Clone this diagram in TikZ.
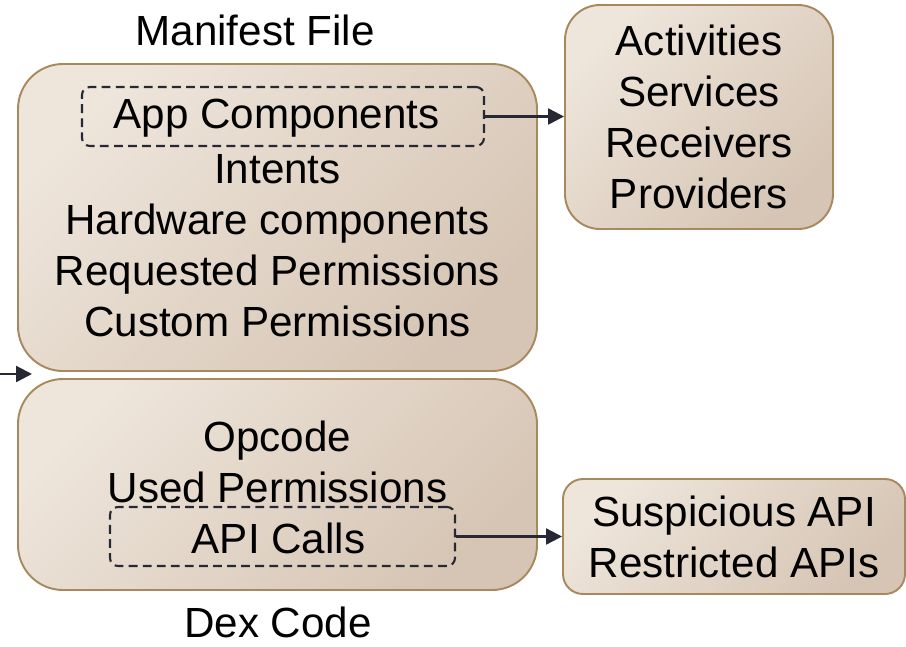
\documentclass[tikz,border=0pt]{standalone}
\usepackage{fontspec}
\setmainfont{Liberation Sans}
\usetikzlibrary{arrows.meta,calc}
\definecolor{panellight}{HTML}{EEE5DB}
\definecolor{paneldark}{HTML}{D6C5B4}
\definecolor{panelrim}{HTML}{A8895E}
\definecolor{linkcol}{HTML}{262833}
\tikzset{
  panel/.style={rectangle,draw=panelrim,line width=1.1pt,top color=panellight,bottom color=paneldark,shading angle=45,inner sep=0pt},
  dashbox/.style={rectangle,draw=linkcol,line width=1.2pt,dash pattern=on 5pt off 3pt,rounded corners=0.16cm,inner sep=0pt},
  words/.style={align=center,inner sep=0pt,font=\fontsize{24}{29}\selectfont},
  link/.style={draw=linkcol,line width=1.3pt,-{Triangle[length=9pt,width=9pt]}}
}

\begin{document}
\begin{tikzpicture}
    \useasboundingbox (0,0) rectangle (18.12,-12.92); % keeps the margins

    % manifest file
    \node[panel,minimum width=10.38cm,minimum height=6.14cm,rounded corners=0.9cm] (manifest) at (5.55,-4.35) {};
    \node[dashbox,minimum width=8.04cm,minimum height=1.18cm] (appbox) at (5.66,-2.33) {};
    \node[words] (apptxt) at (5.53,-2.36) {App Components};
    \node[words] (mlist) at (5.55,-4.91) {Intents\\Hardware components\\Requested Permissions\\Custom Permissions};
    \node[words] (mtitle) at (5.1,-0.6) {Manifest File};

    % dex code
    \node[panel,minimum width=10.38cm,minimum height=4.22cm,rounded corners=0.9cm] (dex) at (5.55,-9.69) {};
    \node[words] (dlist) at (5.55,-9.23) {Opcode\\Used Permissions};
    \node[dashbox,minimum width=6.9cm,minimum height=1.18cm] (apibox) at (5.65,-10.73) {};
    \node[words] (apitxt) at (5.57,-10.76) {API Calls};
    \node[words] (dtitle) at (5.56,-12.44) {Dex Code};

    \node[panel,words,minimum width=5.36cm,minimum height=4.48cm,rounded corners=0.7cm] (comps) at (13.98,-2.34) {Activities\\Services\\Receivers\\Providers};
    \node[panel,words,minimum width=6.84cm,minimum height=2.3cm,rounded corners=0.4cm] (alerts) at (14.68,-10.73) {Suspicious API\\Restricted APIs};

    \coordinate (src) at (0,-7.48);
    \coordinate (gap) at (0.64,-7.48);
    \draw[link] (src) -> (gap);
    \draw[link] (appbox.east) -> (comps.west |- appbox.east);
    \draw[link] (apibox.east) -> (alerts.west);
\end{tikzpicture}
\end{document}
